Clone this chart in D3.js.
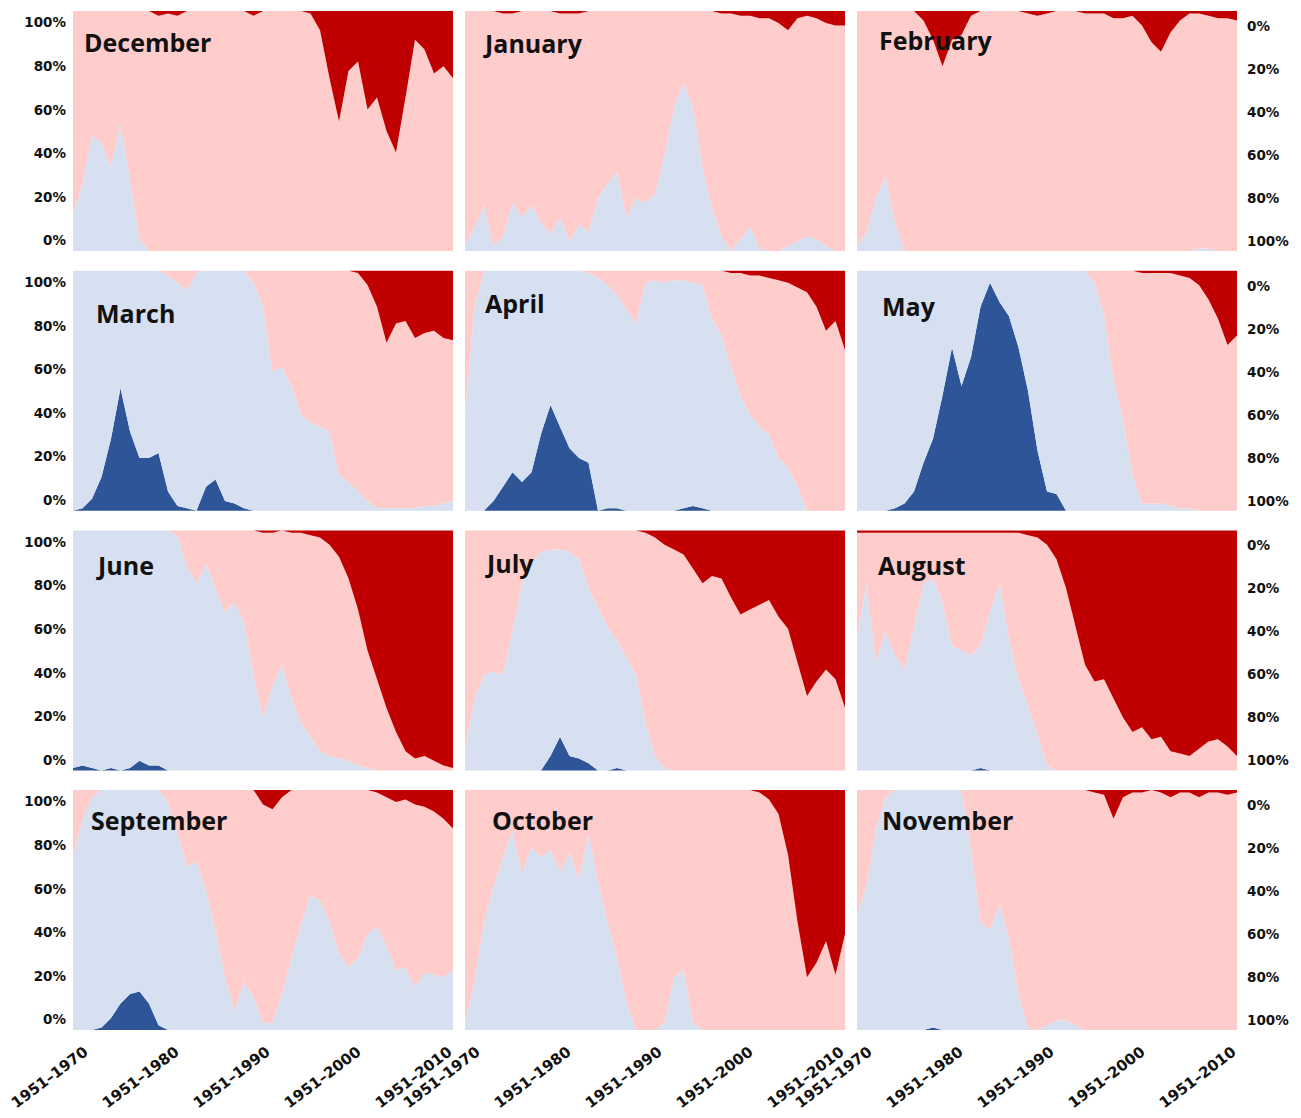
<!DOCTYPE html>
<html>
<head>
<meta charset="utf-8">
<script src="https://cdn.jsdelivr.net/npm/d3@7"></script>
<style>
  html, body { margin: 0; padding: 0; background: #ffffff; }
  svg { display: block; }
</style>
</head>
<body>
<svg id="chart" width="1301" height="1118"></svg>
<script>
// Trend-period end years (each period starts in 1951)
const endYears = d3.range(1970, 2011);
const tickLabels = ["1951–1970", "1951–1980", "1951–1990", "1951–2000", "1951–2010"];
const percentTicks = [0, 20, 40, 60, 80, 100];

// Stack order, bottom to top
const seriesKeys = ["strongCooling", "cooling", "warming", "strongWarming"];
const seriesColors = ["#2E5597", "#D6E0F1", "#FFCCCC", "#C00000"];

// Share (%) of each class, one value per period ending 1970 … 2010
const december = {
  strongCooling: [0,0,0,0,0,0,0,0,0,0, 0,0,0,0,0,0,0,0,0,0, 0,0,0,0,0,0,0,0,0,0, 0,0,0,0,0,0,0,0,0,0, 0],
  cooling:       [15,28,48,45,35,53,30,5,0,0, 0,0,0,0,0,0,0,0,0,0, 0,0,0,0,0,0,0,0,0,0, 0,0,0,0,0,0,0,0,0,0, 0],
  warming:       [85,72,52,55,65,47,70,95,100,98, 99,98,100,100,100,100,100,100,100,98, 100,100,100,100,100,99,92,72,54,75, 79,59,64,50,41,64,88,84,74,77, 72],
  strongWarming: [0,0,0,0,0,0,0,0,0,2, 1,2,0,0,0,0,0,0,0,2, 0,0,0,0,0,1,8,28,46,25, 21,41,36,50,59,36,12,16,26,23, 28]
};
const january = {
  strongCooling: [0,0,0,0,0,0,0,0,0,0, 0,0,0,0,0,0,0,0,0,0, 0,0,0,0,0,0,0,0,0,0, 0,0,0,0,0,0,0,0,0,0, 0],
  cooling:       [2,10,19,2,6,20,14,19,12,7, 14,4,11,8,22,28,33,14,22,20, 24,40,60,70,60,35,18,6,0,5, 10,1,0,0,2,4,6,5,2,0, 0],
  warming:       [98,90,81,98,93,79,86,81,88,93, 85,95,88,92,78,72,67,86,78,80, 76,60,40,30,40,65,82,93,99,93, 88,96,97,95,90,93,92,92,93,94, 94],
  strongWarming: [0,0,0,0,1,1,0,0,0,0, 1,1,1,0,0,0,0,0,0,0, 0,0,0,0,0,0,0,1,1,2, 2,3,3,5,8,3,2,3,5,6, 6]
};
const february = {
  strongCooling: [0,0,0,0,0,0,0,0,0,0, 0,0,0,0,0,0,0,0,0,0, 0,0,0,0,0,0,0,0,0,0, 0,0,0,0,0,0,0,0,0,0, 0],
  cooling:       [2,8,22,31,12,0,0,0,0,0, 0,0,0,0,0,0,0,0,0,0, 0,0,0,0,0,0,0,0,0,0, 0,0,0,0,0,0,1,1,0,0, 0],
  warming:       [98,92,78,69,88,100,100,96,88,77, 88,90,98,100,100,100,100,100,99,98, 99,100,100,100,99,99,99,97,97,98, 94,87,83,91,96,99,98,97,97,97, 96],
  strongWarming: [0,0,0,0,0,0,0,4,12,23, 12,10,2,0,0,0,0,0,1,2, 1,0,0,0,1,1,1,3,3,2, 6,13,17,9,4,1,1,2,3,3, 4]
};
const march = {
  strongCooling: [0,1,5,14,30,51,33,22,22,24, 8,2,1,0,10,13,4,3,1,0, 0,0,0,0,0,0,0,0,0,0, 0,0,0,0,0,0,0,0,0,0, 0],
  cooling:       [100,99,95,86,70,49,67,78,78,76, 90,93,91,99,90,87,96,97,99,95, 85,58,60,52,40,37,35,33,15,12, 8,4,1,1,1,1,1,2,2,3, 4],
  warming:       [0,0,0,0,0,0,0,0,0,0, 2,5,8,1,0,0,0,0,0,5, 15,42,40,48,60,63,65,67,85,88, 91,90,84,69,77,78,71,72,73,69, 67],
  strongWarming: [0,0,0,0,0,0,0,0,0,0, 0,0,0,0,0,0,0,0,0,0, 0,0,0,0,0,0,0,0,0,0, 1,6,15,30,22,21,28,26,25,28, 29]
};
const april = {
  strongCooling: [0,0,0,4,10,16,12,16,32,44, 35,26,22,20,0,1,1,0,0,0, 0,0,0,1,2,1,0,0,0,0, 0,0,0,0,0,0,0,0,0,0, 0],
  cooling:       [40,85,100,96,90,84,88,84,68,56, 65,74,78,79,97,93,89,84,78,95, 96,95,96,95,93,93,80,73,60,48, 40,35,32,22,18,10,0,0,0,0, 0],
  warming:       [60,15,0,0,0,0,0,0,0,0, 0,0,0,1,3,6,10,16,22,5, 4,5,4,4,5,6,20,27,39,51, 58,63,65,74,77,83,91,85,75,79, 67],
  strongWarming: [0,0,0,0,0,0,0,0,0,0, 0,0,0,0,0,0,0,0,0,0, 0,0,0,0,0,0,0,0,1,1, 2,2,3,4,5,7,9,15,25,21, 33]
};
const may = {
  strongCooling: [0,0,0,0,1,3,8,20,30,48, 68,52,64,85,95,87,81,68,50,25, 8,7,0,0,0,0,0,0,0,0, 0,0,0,0,0,0,0,0,0,0, 0],
  cooling:       [100,100,100,100,99,97,92,80,70,52, 32,48,36,15,5,13,19,32,50,75, 92,93,100,100,100,95,82,55,38,15, 3,3,3,2,1,1,0,0,0,0, 0],
  warming:       [0,0,0,0,0,0,0,0,0,0, 0,0,0,0,0,0,0,0,0,0, 0,0,0,0,0,5,18,45,62,85, 96,96,96,97,97,96,94,88,80,69, 73],
  strongWarming: [0,0,0,0,0,0,0,0,0,0, 0,0,0,0,0,0,0,0,0,0, 0,0,0,0,0,0,0,0,0,0, 1,1,1,1,2,3,6,12,20,31, 27]
};
const june = {
  strongCooling: [1,2,1,0,1,0,1,4,2,2, 0,0,0,0,0,0,0,0,0,0, 0,0,0,0,0,0,0,0,0,0, 0,0,0,0,0,0,0,0,0,0, 0],
  cooling:       [99,98,99,100,99,100,99,96,98,98, 100,98,85,78,86,76,66,70,62,40, 22,35,44,30,20,14,8,6,5,4, 2,1,0,0,0,0,0,0,0,0, 0],
  warming:       [0,0,0,0,0,0,0,0,0,0, 0,2,15,22,14,24,34,30,38,60, 77,64,56,69,79,84,89,88,84,76, 65,49,38,26,16,8,5,6,4,2, 1],
  strongWarming: [0,0,0,0,0,0,0,0,0,0, 0,0,0,0,0,0,0,0,0,0, 1,1,0,1,1,2,3,6,11,20, 33,50,62,74,84,92,95,94,96,98, 99]
};
const july = {
  strongCooling: [0,0,0,0,0,0,0,0,0,6, 14,6,5,3,0,0,1,0,0,0, 0,0,0,0,0,0,0,0,0,0, 0,0,0,0,0,0,0,0,0,0, 0],
  cooling:       [8,30,40,41,40,58,78,86,91,86, 78,85,83,73,68,60,53,47,40,20, 6,1,0,0,0,0,0,0,0,0, 0,0,0,0,0,0,0,0,0,0, 0],
  warming:       [92,70,60,59,60,42,22,14,9,8, 8,9,12,24,32,40,46,53,60,79, 91,93,92,90,84,78,81,80,72,65, 67,69,71,64,59,45,31,37,42,38, 26],
  strongWarming: [0,0,0,0,0,0,0,0,0,0, 0,0,0,0,0,0,0,0,0,1, 3,6,8,10,16,22,19,20,28,35, 33,31,29,36,41,55,69,63,58,62, 74]
};
const august = {
  strongCooling: [0,0,0,0,0,0,0,0,0,0, 0,0,0,1,0,0,0,0,0,0, 0,0,0,0,0,0,0,0,0,0, 0,0,0,0,0,0,0,0,0,0, 0],
  cooling:       [55,78,45,58,48,42,60,78,80,70, 52,50,48,51,66,78,55,38,27,15, 2,0,0,0,0,0,0,0,0,0, 0,0,0,0,0,0,0,0,0,0, 0],
  warming:       [44,21,54,41,51,57,39,21,19,29, 47,49,51,47,33,21,44,61,71,82, 92,88,76,60,44,37,38,30,22,16, 18,13,14,8,7,6,9,12,13,10, 6],
  strongWarming: [1,1,1,1,1,1,1,1,1,1, 1,1,1,1,1,1,1,1,2,3, 6,12,24,40,56,63,62,70,78,84, 82,87,86,92,93,94,91,88,87,90, 94]
};
const september = {
  strongCooling: [0,0,0,1,5,11,15,16,11,2, 0,0,0,0,0,0,0,0,0,0, 0,0,0,0,0,0,0,0,0,0, 0,0,0,0,0,0,0,0,0,0, 0],
  cooling:       [72,88,97,99,95,89,85,84,89,98, 95,82,68,70,58,42,22,8,20,14, 3,3,15,30,44,56,54,45,32,26, 30,40,43,35,25,26,18,24,23,22, 25],
  warming:       [28,12,3,0,0,0,0,0,0,0, 5,18,32,30,42,58,78,92,80,86, 91,89,82,70,56,44,46,55,68,74, 70,60,56,62,70,70,76,69,68,66, 59],
  strongWarming: [0,0,0,0,0,0,0,0,0,0, 0,0,0,0,0,0,0,0,0,0, 6,8,3,0,0,0,0,0,0,0, 0,0,1,3,5,4,6,7,9,12, 16]
};
const october = {
  strongCooling: [0,0,0,0,0,0,0,0,0,0, 0,0,0,0,0,0,0,0,0,0, 0,0,0,0,0,0,0,0,0,0, 0,0,0,0,0,0,0,0,0,0, 0],
  cooling:       [3,20,45,60,72,83,65,76,72,75, 66,74,63,82,62,45,30,12,0,0, 0,3,22,25,3,0,0,0,0,0, 0,0,0,0,0,0,0,0,0,0, 0],
  warming:       [97,80,55,40,28,17,35,24,28,25, 34,26,37,18,38,55,70,88,100,100, 100,97,78,75,97,100,100,100,100,100, 100,99,96,90,73,45,22,28,37,23, 40],
  strongWarming: [0,0,0,0,0,0,0,0,0,0, 0,0,0,0,0,0,0,0,0,0, 0,0,0,0,0,0,0,0,0,0, 0,1,4,10,27,55,78,72,63,77, 60]
};
const november = {
  strongCooling: [0,0,0,0,0,0,0,0,1,0, 0,0,0,0,0,0,0,0,0,0, 0,0,0,0,0,0,0,0,0,0, 0,0,0,0,0,0,0,0,0,0, 0],
  cooling:       [48,60,84,97,100,100,100,100,99,100, 100,100,75,45,42,52,38,15,1,0, 2,4,4,2,0,0,0,0,0,0, 0,0,0,0,0,0,0,0,0,0, 0],
  warming:       [52,40,16,3,0,0,0,0,0,0, 0,0,25,55,58,48,62,85,99,100, 98,96,96,98,100,99,98,88,97,99, 99,100,99,97,99,99,97,99,99,98, 99],
  strongWarming: [0,0,0,0,0,0,0,0,0,0, 0,0,0,0,0,0,0,0,0,0, 0,0,0,0,0,1,2,12,3,1, 1,0,1,3,1,1,3,1,1,2, 1]
};

const monthNames = ["December", "January", "February", "March", "April", "May",
                    "June", "July", "August", "September", "October", "November"];
const monthData = [december, january, february, march, april, may,
                   june, july, august, september, october, november];

// ---- layout ----
const colX = [73, 465, 857];
const rowY = [11, 270.7, 530.4, 790];
const panelW = 380;
const panelH = 240;
// title placement inside each panel (dx, baseline dy)
const titleOffsets = [[11, 41], [20, 42], [22, 39], [23, 52], [20, 42], [25, 45],
                      [25, 45], [22, 43], [21, 45], [18, 40], [27, 40], [25, 40]];

const tickFont = "'DejaVu Sans', sans-serif";
const titleFont = "'Open Sans', 'Noto Sans', sans-serif";

const svg = d3.select("#chart");

const x = d3.scaleLinear().domain([1970, 2010]).range([0, panelW]);
const y = d3.scaleLinear().domain([0, 1]).range([panelH, 0]);
const labelX = d3.scalePoint().domain(tickLabels).range([16, 380]);
const leftTickScale = d3.scaleLinear().domain([0, 100]).range([229.5, 11.5]);
const rightTickScale = d3.scaleLinear().domain([0, 100]).range([15, 230]);

const stack = d3.stack().keys(seriesKeys).offset(d3.stackOffsetExpand);
const area = d3.area()
  .x(d => x(d.data.year))
  .y0(d => y(d[0]))
  .y1(d => y(d[1]));

monthData.forEach((m, idx) => {
  const col = idx % 3, row = Math.floor(idx / 3);
  const g = svg.append("g").attr("transform", `translate(${colX[col]},${rowY[row]})`);

  const rows = endYears.map((yr, i) => {
    const r = { year: yr };
    seriesKeys.forEach(k => { r[k] = m[k][i]; });
    return r;
  });
  const layers = stack(rows);

  g.selectAll("path.layer")
    .data(layers)
    .join("path")
    .attr("class", "layer")
    .attr("fill", (d, i) => seriesColors[i])
    .attr("d", area);

  g.append("text")
    .attr("x", titleOffsets[idx][0])
    .attr("y", titleOffsets[idx][1])
    .attr("font-family", titleFont)
    .attr("font-weight", 700)
    .attr("font-size", 25)
    .attr("fill", "#111")
    .text(monthNames[idx]);

  if (col === 0) {
    const ax = g.append("g")
      .call(d3.axisLeft(leftTickScale).tickValues(percentTicks)
        .tickFormat(d => d + "%").tickSize(0).tickPadding(7));
    ax.select(".domain").remove();
    ax.selectAll("text")
      .attr("font-family", tickFont).attr("font-weight", "bold")
      .attr("font-size", 13.5).attr("fill", "#111");
  }
  if (col === 2) {
    const ax = g.append("g")
      .attr("transform", `translate(${panelW},0)`)
      .call(d3.axisRight(rightTickScale).tickValues(percentTicks)
        .tickFormat(d => d + "%").tickSize(0).tickPadding(10));
    ax.select(".domain").remove();
    ax.selectAll("text")
      .attr("font-family", tickFont).attr("font-weight", "bold")
      .attr("font-size", 13.5).attr("fill", "#111");
  }
  if (row === 3) {
    g.selectAll("text.period")
      .data(tickLabels)
      .join("text")
      .attr("class", "period")
      .attr("transform", d => `translate(${labelX(d)},${264}) rotate(-37)`)
      .attr("text-anchor", "end")
      .attr("font-family", tickFont)
      .attr("font-weight", "bold")
      .attr("font-size", 15)
      .attr("fill", "#111")
      .text(d => d);
  }
});
</script>
</body>
</html>
